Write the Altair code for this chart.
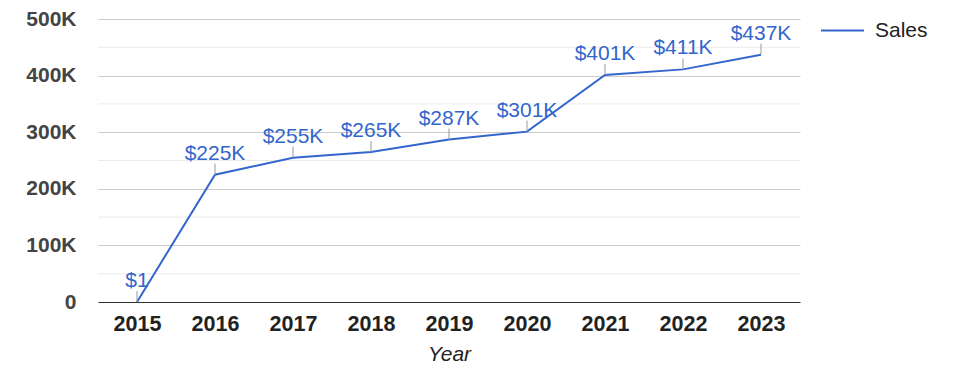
import altair as alt
import pandas as pd

years = ["2015", "2016", "2017", "2018", "2019", "2020", "2021", "2022", "2023"]
sales = [1, 225000, 255000, 265000, 287000, 301000, 401000, 411000, 437000]
labels = ["$1", "$225K", "$255K", "$265K", "$287K", "$301K", "$401K", "$411K", "$437K"]
series = ["Sales"] * len(years)
major_ticks = [0, 100000, 200000, 300000, 400000, 500000]
minor_grid = [50000, 150000, 250000, 350000, 450000]

df = pd.DataFrame({"Year": years, "Sales": sales, "Label": labels, "Series": series})
df_minor = pd.DataFrame({"v": minor_grid})

FONT = "Liberation Sans"
BLUE = "#3366cc"

x_enc = alt.X("Year:O", scale=alt.Scale(type="point", padding=0.5),
              axis=alt.Axis(title="Year", labelAngle=0, labelFontSize=21.5, labelFontWeight="bold",
                            labelColor="#222222", labelPadding=11, ticks=False, domain=True,
                            domainColor="#333333", domainWidth=1, titleFontSize=21,
                            titleFontStyle="italic", titleFontWeight="normal", titleColor="#222222",
                            titlePadding=9, grid=False))
y_scale = alt.Scale(domain=[0, 500000], nice=False)
y_axis = alt.Axis(values=major_ticks,
                  labelExpr="datum.value == 0 ? '0' : (datum.value / 1000) + 'K'",
                  labelFontSize=21, labelFontWeight="bold", labelColor="#444444",
                  labelPadding=22, ticks=False, domain=False, grid=True,
                  gridColor="#cccccc", gridWidth=1, title=None)

minor = alt.Chart(df_minor).mark_rule(color="#ebebeb", strokeWidth=1).encode(
    y=alt.Y("v:Q", scale=y_scale, axis=y_axis)
)

base = alt.Chart(df)

line = base.mark_line(strokeWidth=2).encode(
    x=x_enc,
    y=alt.Y("Sales:Q", scale=y_scale, axis=y_axis),
    color=alt.Color("Series:N", scale=alt.Scale(range=[BLUE]),
                    legend=alt.Legend(title=None, orient="none", legendX=722, legendY=-11,
                                      symbolType="stroke", symbolSize=1849, symbolStrokeWidth=2,
                                      labelFontSize=21, labelColor="#222222", labelFont=FONT,
                                      labelOffset=10, padding=0)),
)

stems = base.mark_rule(color="#999999", strokeWidth=1, y2Offset=-11).encode(
    x="Year:O", y=alt.Y("Sales:Q", scale=y_scale), y2="Sales:Q"
)

text = base.mark_text(color=BLUE, fontSize=21, font=FONT, dy=-15, baseline="alphabetic").encode(
    x="Year:O", y=alt.Y("Sales:Q", scale=y_scale), text="Label:N"
)

chart = alt.layer(minor, line, stems, text).properties(
    width=702, height=283,
    autosize=alt.AutoSizeParams(type="none"),
    padding={"left": 90, "top": 11, "right": 167, "bottom": 68},
).configure(font=FONT).configure_view(stroke=None).configure_axis(labelFont=FONT, titleFont=FONT)

chart.save("out.html", embed_options={"renderer": "svg", "actions": False})
